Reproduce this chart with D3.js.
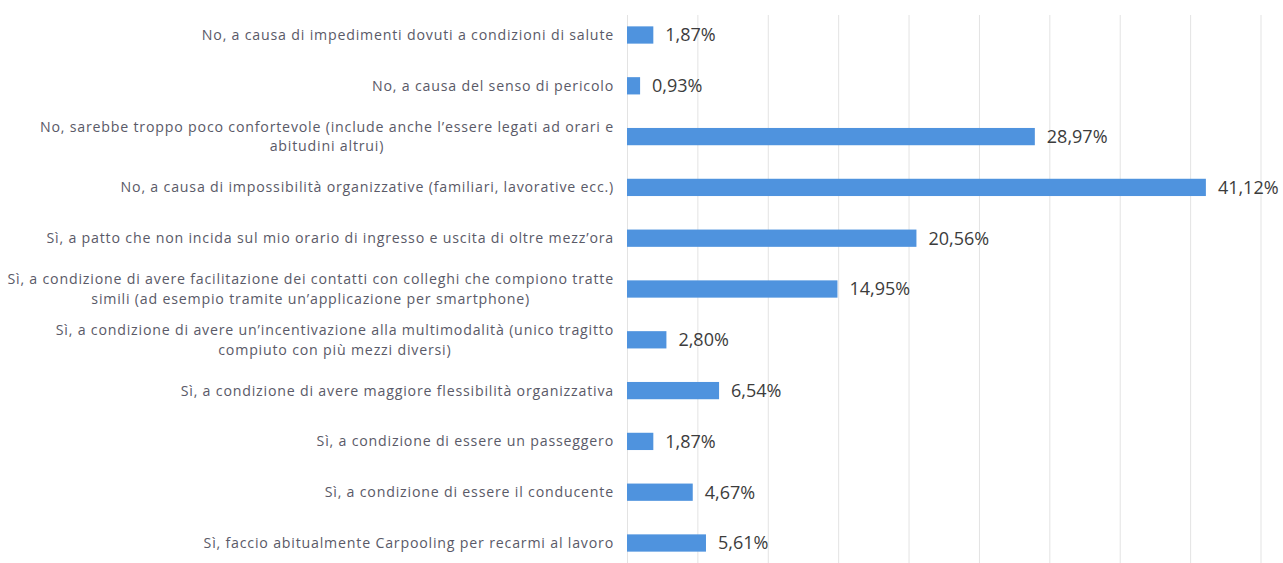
<!DOCTYPE html>
<html>
<head>
<meta charset="utf-8">
<script src="https://cdn.jsdelivr.net/npm/d3@7"></script>
<style>
  html, body { margin: 0; padding: 0; background: #ffffff; }
  svg { display: block; }
</style>
</head>
<body>
<svg id="chart" width="1283" height="563"></svg>
<script>
// Survey answers, top to bottom; "\n" marks where a long answer wraps.
const categories = [
  "No, a causa di impedimenti dovuti a condizioni di salute",
  "No, a causa del senso di pericolo",
  "No, sarebbe troppo poco confortevole (include anche l’essere legati ad orari e\nabitudini altrui)",
  "No, a causa di impossibilità organizzative (familiari, lavorative ecc.)",
  "Sì, a patto che non incida sul mio orario di ingresso e uscita di oltre mezz’ora",
  "Sì, a condizione di avere facilitazione dei contatti con colleghi che compiono tratte\nsimili (ad esempio tramite un’applicazione per smartphone)",
  "Sì, a condizione di avere un’incentivazione alla multimodalità (unico tragitto\ncompiuto con più mezzi diversi)",
  "Sì, a condizione di avere maggiore flessibilità organizzativa",
  "Sì, a condizione di essere un passeggero",
  "Sì, a condizione di essere il conducente",
  "Sì, faccio abitualmente Carpooling per recarmi al lavoro"
];

// Share of respondents (%)
const values = [1.87, 0.93, 28.97, 41.12, 20.56, 14.95, 2.80, 6.54, 1.87, 4.67, 5.61];

// Vertical gridlines every 5%
const gridTicks = [0, 5, 10, 15, 20, 25, 30, 35, 40, 45];

const svg = d3.select("#chart");
const plotLeft = 627, plotRight = 1260.5;
const labelRight = 614;

const x = d3.scaleLinear().domain([0, 45]).range([plotLeft, plotRight]);
const y = d3.scaleBand()
  .domain(d3.range(categories.length))
  .range([9.6, 568.4])
  .paddingInner(0.66)
  .paddingOuter(0.33);

const fmt = v => d3.format(".2f")(v).replace(".", ",") + "%";

// gridlines
svg.append("g")
  .attr("class", "grid")
  .attr("transform", "translate(0,15)")
  .call(d3.axisTop(x).tickValues(gridTicks).tickSize(-(563 - 15)).tickFormat(""))
  .call(g => g.select(".domain").remove())
  .call(g => g.selectAll(".tick line").attr("stroke", "#e3e3e3").attr("stroke-width", 1));

// bars
svg.append("g")
  .selectAll("rect")
  .data(values)
  .join("rect")
  .attr("x", x(0))
  .attr("y", (d, i) => y(i))
  .attr("width", d => x(d) - x(0))
  .attr("height", y.bandwidth())
  .attr("fill", "#4f93de");

// value labels
svg.append("g")
  .selectAll("text")
  .data(values)
  .join("text")
  .attr("x", d => x(d) + 12)
  .attr("y", (d, i) => y(i) + y.bandwidth() / 2)
  .attr("dy", "0.36em")
  .attr("font-family", "'Open Sans', sans-serif")
  .attr("font-size", 18)
  .attr("fill", "#3c3c3c")
  .text(fmt);

// category labels: right-aligned, wrapped lines centred under the first line
const labelG = svg.append("g")
  .attr("font-family", "'Open Sans', sans-serif")
  .attr("font-size", 14.2)
  .attr("letter-spacing", 0.8)
  .attr("fill", "#5a5a68");

categories.forEach((c, i) => {
  const lines = c.split("\n");
  const cy = y(i) + y.bandwidth() / 2;
  const lineH = 19.5;
  const top = cy - (lines.length - 1) * lineH / 2;
  const first = labelG.append("text")
    .attr("x", labelRight)
    .attr("y", top)
    .attr("dy", "0.35em")
    .attr("text-anchor", "end")
    .text(lines[0]);
  if (lines.length > 1) {
    const w = first.node().getComputedTextLength();
    lines.slice(1).forEach((ln, k) => {
      labelG.append("text")
        .attr("x", labelRight - w / 2)
        .attr("y", top + (k + 1) * lineH)
        .attr("dy", "0.35em")
        .attr("text-anchor", "middle")
        .text(ln);
    });
  }
});
</script>
</body>
</html>
